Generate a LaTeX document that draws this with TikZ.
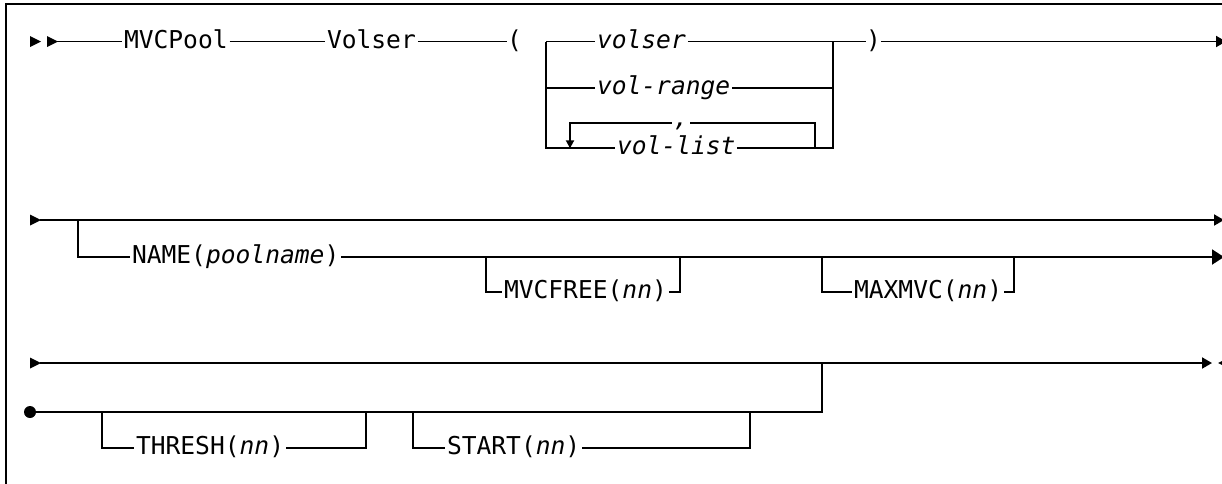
\documentclass[tikz,border=0pt]{standalone}
\usepackage{fontspec}
\newfontfamily\dmono{DejaVu Sans Mono}
\newcommand\kwfont{\dmono\fontsize{24.6}{28}\selectfont}
\usetikzlibrary{arrows.meta}
\begin{document}
\begin{tikzpicture}[x=1pt,y=-1pt,line width=1.9pt,
  kw/.style={font=\kwfont, inner xsep=2pt, inner ysep=0pt, outer sep=0pt,
             text height=17.8pt, text depth=4.6pt, anchor=west},
  par/.style={kw, inner xsep=0pt},
  endarrow/.style={-{Triangle[length=10pt,width=11pt]}},
  bigarrow/.style={-{Triangle[length=12pt,width=15pt]}},
  looparrow/.style={-{Triangle[length=8pt,width=8pt]}}]
\useasboundingbox (0,0) rectangle (1222,483);
% frame
\draw[line width=2pt] (1240,4) -- (6,4) -- (6,500);

% ---------- row 1 ----------
\fill (30,36) -- (41,41.5) -- (30,47) -- cycle;
\fill (47,36) -- (58,41.5) -- (47,47) -- cycle;
\coordinate (r1s) at (57,41.5);
\node[kw] (mvc) at (122,41.5) {MVCPool};
\node[kw] (vol) at (325,41.5) {Volser};
\node[par] (lp) at (507,41.5) {(};
\draw (r1s) -- (mvc.west);
\draw (mvc.east) -- (vol.west);
\draw (vol.east) -- (lp.west);
\node[kw] (vs) at (595,41.5) {\textit{volser}};
\node[kw] (vr) at (595,88.3) {\textit{vol-range}};
\node[kw] (vl) at (615,148.3) {\textit{vol-list}};
\coordinate (bl) at (546,41.5);
\coordinate (br) at (833,41.5);
\draw (bl) -- (vs.west);
\draw (vs.east) -- (br);
\draw (bl |- vr.west) -- (vr.west);
\draw (vr.east) -- (br |- vr.east);
\draw (bl) -- (bl |- vl.west) -- (vl.west);
\draw (vl.east) -- (br |- vl.east) -- (br);
\node[par] (rp) at (866,41.5) {)};
\draw (br) -- (rp.west);
\coordinate (r1e) at (1226,41.5);
\draw[endarrow] (rp.east) -- (r1e);
% repeat loop
\coordinate (lt) at (0,122.7);
\coordinate (lpR) at (815,148.3);
\coordinate (lpL) at (570,148.3);
\node[kw,anchor=center] (cm) at (681,120) {\textit{,}};
\draw (lpR) -- (lpR |- lt) -- (cm.east |- lt);
\draw[looparrow] (cm.west |- lt) -- (lpL |- lt) -- (lpL);

% ---------- row 2 ----------
\fill (30,214.5) -- (41,220) -- (30,225.5) -- cycle;
\coordinate (r2s) at (40,220);
\coordinate (r2e) at (1224,220);
\draw[endarrow] (r2s) -- (r2e);
\node[kw] (nm) at (130,257) {NAME(\textit{poolname})};
\coordinate (b2) at (78,220);
\draw (b2) -- (b2 |- nm.west) -- (nm.west);
\coordinate (r2f) at (1224,257);
\draw[bigarrow] (nm.east) -- (r2f);
\node[kw] (mf) at (502,292) {MVCFREE(\textit{nn})};
\coordinate (mfL) at (486,257);
\coordinate (mfR) at (680,257);
\draw (mfL) -- (mfL |- mf.west) -- (mf.west);
\draw (mf.east) -- (mfR |- mf.east) -- (mfR);
\node[kw] (mx) at (852,292) {MAXMVC(\textit{nn})};
\coordinate (mxL) at (822,257);
\coordinate (mxR) at (1014,257);
\draw (mxL) -- (mxL |- mx.west) -- (mx.west);
\draw (mx.east) -- (mxR |- mx.east) -- (mxR);

% ---------- row 3 ----------
\fill (30,357.5) -- (41,363) -- (30,368.5) -- cycle;
\coordinate (r3s) at (40,363);
\coordinate (r3e) at (1212,363);
\draw[endarrow] (r3s) -- (r3e);
\fill (1218,363) -- (1229,357.5) -- (1229,368.5) -- cycle;
\coordinate (dot) at (30,412);
\fill (dot) circle (6pt);
\coordinate (j3) at (822,412);
\draw (dot) -- (j3) -- (j3 |- r3s);
\node[kw] (th) at (134,448) {THRESH(\textit{nn})};
\coordinate (thL) at (102,412);
\coordinate (thR) at (366,412);
\draw (thL) -- (thL |- th.west) -- (th.west);
\draw (th.east) -- (thR |- th.east) -- (thR);
\node[kw] (st) at (445,448) {START(\textit{nn})};
\coordinate (stL) at (413,412);
\coordinate (stR) at (750,412);
\draw (stL) -- (stL |- st.west) -- (st.west);
\draw (st.east) -- (stR |- st.east) -- (stR);
\end{tikzpicture}
\end{document}
